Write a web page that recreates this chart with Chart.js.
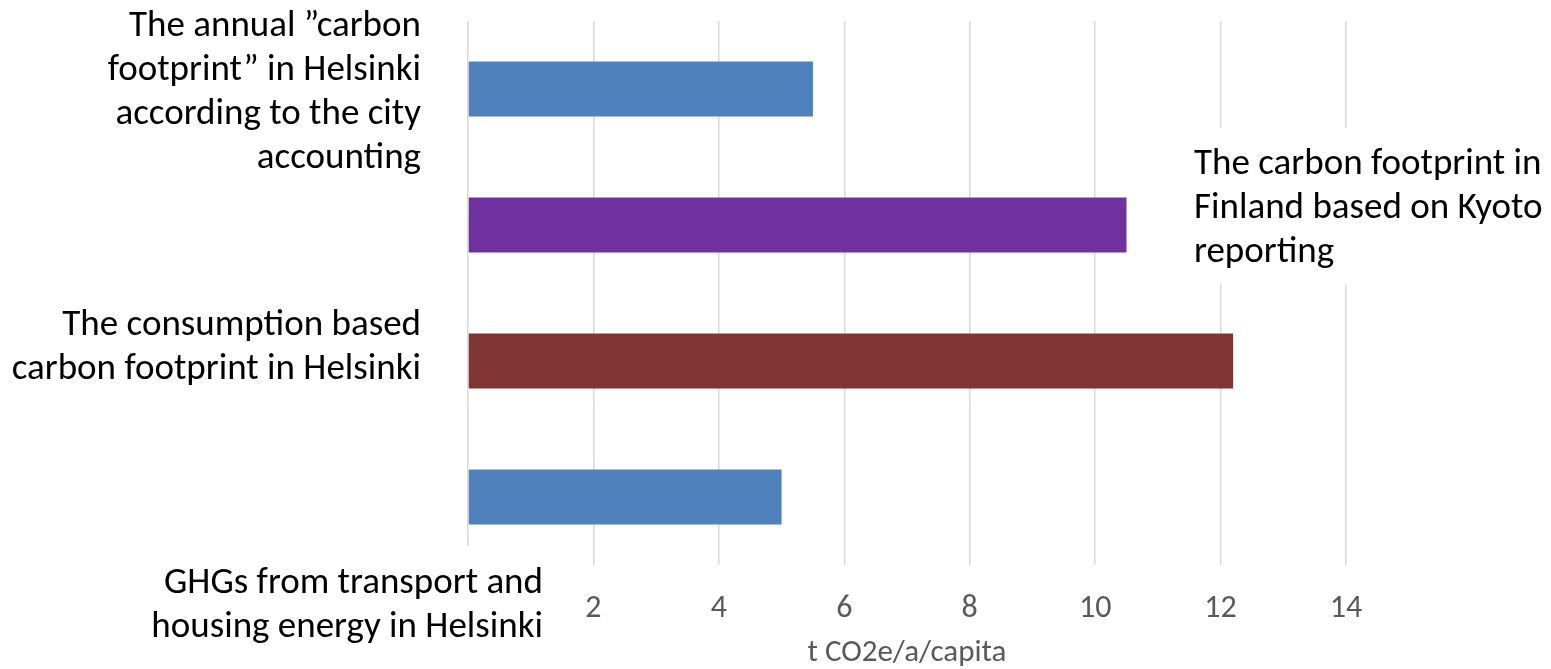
<!DOCTYPE html>
<html>
<head>
<meta charset="utf-8">
<script src="https://cdn.jsdelivr.net/npm/chart.js"></script>
<style>
  html, body { margin: 0; padding: 0; background: #fff; }
</style>
</head>
<body>
<canvas id="myChart" width="1551" height="669"></canvas>
<script>
// data
const categories = [
  ["The annual ”carbon", "footprint” in Helsinki", "according to the city", "accounting"],
  ["The carbon footprint in", "Finland based on Kyoto", "reporting"],
  ["The consumption based", "carbon footprint in Helsinki"],
  ["GHGs from transport and", "housing energy in Helsinki"]
];
const values = [5.5, 10.5, 12.2, 5.0];
const barColors = ["#4F81BD", "#7030A0", "#7F3533", "#4F81BD"];
const xTicks = [0, 2, 4, 6, 8, 10, 12, 14];
const axisTitle = "t CO2e/a/capita";

const fontFamily = "Carlito, Lato, sans-serif";

// the category labels sit in free text boxes, like in the original slide
const labelBoxes = [
  { x: 421, y: 36, align: "right" },
  { x: 1194, y: 174, align: "left", cover: [1180, 128, 371, 156] },
  { x: 421, y: 335, align: "right" },
  { x: 543, y: 593, align: "right", cover: [130, 546, 430, 123] }
];

const freeLabels = {
  id: "freeLabels",
  afterDraw(chart) {
    const c = chart.ctx;
    c.save();
    labelBoxes.forEach((b, i) => {
      if (b.cover) {
        c.fillStyle = "#fff";
        c.fillRect(b.cover[0], b.cover[1], b.cover[2], b.cover[3]);
      }
      c.fillStyle = "#000";
      c.font = "37px " + fontFamily;
      c.textAlign = b.align;
      c.textBaseline = "alphabetic";
      categories[i].forEach((line, k) => {
        c.fillText(line, b.x, b.y + k * 44);
      });
    });
    c.restore();
  }
};

var ctx = document.getElementById("myChart").getContext("2d");
var chart = new Chart(ctx, {
  type: "bar",
  data: {
    labels: categories,
    datasets: [
      {
        data: values,
        backgroundColor: barColors,
        borderWidth: 0,
        barPercentage: 0.404,
        categoryPercentage: 1
      }
    ]
  },
  options: {
    indexAxis: "y",
    responsive: false,
    animation: false,
    layout: { padding: { top: 21, right: 205, left: 0, bottom: 0 } },
    plugins: {
      legend: { display: false },
      tooltip: { enabled: false }
    },
    scales: {
      x: {
        min: 0,
        max: 14,
        afterBuildTicks: s => {
          s.ticks = xTicks.map(v => ({ value: v }));
        },
        afterFit: s => {
          s.height = 104;
        },
        grid: { color: "#d9d9d9", lineWidth: 1.5, drawTicks: false },
        border: { display: false },
        ticks: {
          color: "#595959",
          font: { family: fontFamily, size: 32 },
          padding: 25,
          maxRotation: 0,
          callback: v => (v === 0 ? "" : v)
        },
        title: {
          display: true,
          text: axisTitle,
          color: "#595959",
          font: { family: fontFamily, size: 31, lineHeight: 1 },
          padding: 0
        }
      },
      y: {
        afterFit: s => {
          s.width = 468;
        },
        grid: { display: false },
        border: { display: false },
        ticks: { display: false }
      }
    }
  },
  plugins: [freeLabels]
});
</script>
</body>
</html>
